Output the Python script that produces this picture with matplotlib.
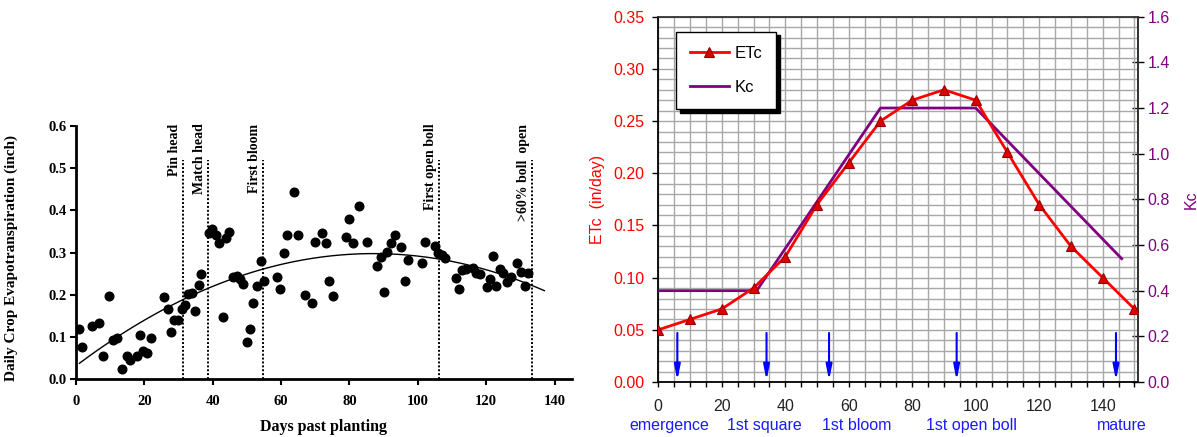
import numpy as np
import matplotlib
matplotlib.use("Agg")
import matplotlib.pyplot as plt
from matplotlib.transforms import blended_transform_factory

# ---------------- Data: left panel (daily crop ET scatter) ----------------
days = [0.8, 1.8, 4.7, 6.8, 7.8, 9.7, 10.9, 11.9, 13.6, 14.8, 15.8, 17.7, 18.7, 19.7,
        20.9, 21.8, 25.7, 26.9, 27.9, 28.7, 29.8, 31.0, 32.0, 32.9, 33.9, 34.9, 35.9,
        36.6, 39.0, 39.8, 40.9, 41.9, 42.9, 43.9, 44.8, 45.8, 47.0, 48.0, 48.9, 49.9,
        50.9, 51.9, 53.0, 54.0, 55.0, 58.7, 59.8, 60.8, 61.8, 63.9, 64.9, 67.1, 69.0,
        70.0, 71.9, 73.1, 74.1, 75.1, 79.0, 79.9, 81.1, 82.8, 85.0, 88.1, 89.1, 90.1,
        91.0, 92.0, 93.2, 95.1, 96.1, 97.1, 101.2, 102.2, 105.1, 106.0, 107.0, 108.0,
        111.1, 112.1, 112.8, 114.0, 116.1, 117.1, 118.1, 120.1, 121.0, 122.0, 123.0,
        124.0, 125.0, 126.0, 127.1, 129.0, 130.2, 131.2, 132.2]
etc_daily = [0.118, 0.076, 0.125, 0.134, 0.055, 0.197, 0.093, 0.098, 0.025, 0.056, 0.046,
             0.054, 0.104, 0.066, 0.063, 0.097, 0.194, 0.167, 0.112, 0.140, 0.140, 0.167,
             0.175, 0.202, 0.203, 0.161, 0.222, 0.248, 0.347, 0.355, 0.342, 0.322, 0.147,
             0.334, 0.349, 0.241, 0.244, 0.237, 0.226, 0.088, 0.120, 0.180, 0.221, 0.281,
             0.233, 0.243, 0.213, 0.298, 0.341, 0.442, 0.341, 0.199, 0.181, 0.325, 0.347,
             0.322, 0.233, 0.197, 0.336, 0.380, 0.323, 0.409, 0.325, 0.268, 0.289, 0.207,
             0.301, 0.323, 0.341, 0.312, 0.232, 0.282, 0.276, 0.325, 0.315, 0.300, 0.293,
             0.287, 0.240, 0.213, 0.259, 0.260, 0.263, 0.251, 0.249, 0.219, 0.238, 0.292,
             0.221, 0.260, 0.251, 0.230, 0.241, 0.274, 0.254, 0.221, 0.252]
trend_range = [1, 137]

stage_names_left = ["Pin head", "Match head", "First bloom", "First open boll", ">60% boll  open"]
stage_days_left = [31.2, 38.6, 54.8, 106.2, 133.3]
stage_line_top = 0.52

# ---------------- Data: right panel (ETc and Kc) ----------------
etc_days = [0, 10, 20, 30, 40, 50, 60, 70, 80, 90, 100, 110, 120, 130, 140, 150]
etc_vals = [0.05, 0.06, 0.07, 0.09, 0.12, 0.17, 0.21, 0.25, 0.27, 0.28, 0.27, 0.22,
            0.17, 0.13, 0.10, 0.07]
kc_days = [0, 31, 70, 100, 146]
kc_vals = [0.40, 0.40, 1.20, 1.20, 0.54]

arrow_days = [6.0, 34.1, 53.8, 94.0, 144.2]
stage_names_right = ["emergence", "1st square", "1st bloom", "1st open boll", "mature"]
stage_label_x = [3.5, 33.5, 62.5, 98.5, 146.0]

# ---------------- Figure ----------------
fig = plt.figure(figsize=(11.97, 4.37), dpi=100)

serif = "Liberation Serif"
sans = "Liberation Sans"

# ---------- Left panel ----------
axL = fig.add_axes([76 / 1197, 1 - 379.3 / 437, (571.7 - 76) / 1197, (379.3 - 125.7) / 437])
axL.plot(days, etc_daily, "o", color="black", ms=6.2, mec="black", zorder=3)

coef = np.polyfit(days, etc_daily, 2)
xx = np.linspace(trend_range[0], trend_range[1], 200)
axL.plot(xx, np.polyval(coef, xx), color="black", lw=1.0, zorder=2)

for name, d in zip(stage_names_left, stage_days_left):
    axL.plot([d, d], [0, stage_line_top], color="black", lw=1.4, ls=(0, (1, 1)), zorder=2)
    axL.text(d - 0.6, 0.605, name, rotation=90, ha="right", va="top",
             family=serif, fontweight="bold", fontsize=10)

axL.set_xlim(0, 145)
axL.set_ylim(0, 0.6)
axL.set_xticks([0, 20, 40, 60, 80, 100, 120, 140])
axL.set_yticks([0.0, 0.1, 0.2, 0.3, 0.4, 0.5, 0.6])
axL.set_yticklabels(["0.0", "0.1", "0.2", "0.3", "0.4", "0.5", "0.6"])
for s in ["top", "right"]:
    axL.spines[s].set_visible(False)
for s in ["left", "bottom"]:
    axL.spines[s].set_linewidth(2)
axL.tick_params(axis="both", direction="out", length=4.5, width=1.5, labelsize=10.5)
axL.tick_params(axis="x", pad=7)
axL.tick_params(axis="y", pad=2.5)
for lab in axL.get_xticklabels() + axL.get_yticklabels():
    lab.set_family(serif)
    lab.set_fontweight("bold")
axL.set_xlabel("Days past planting", family=serif, fontweight="bold", fontsize=11.5, labelpad=8)
axL.set_ylabel("Daily Crop Evapotranspiration (inch)", family=serif, fontweight="bold", fontsize=11)
axL.yaxis.set_label_coords(-0.116, 0.478)

# ---------- Right panel ----------
x0, x1 = 658.3, 658.3 + 151 * 3.174
axR = fig.add_axes([x0 / 1197, 1 - 382 / 437, (x1 - x0) / 1197, (382 - 16.7) / 437])
axR.set_xlim(0, 151)
axR.set_ylim(0, 0.35)
axR.set_xticks(np.arange(0, 141, 20))
axR.set_xticks(np.arange(0, 151, 5), minor=True)
axR.set_yticks(np.arange(0, 0.351, 0.05))
axR.set_yticks(np.arange(0, 0.351, 0.01), minor=True)
axR.set_yticklabels(["%.2f" % v for v in np.arange(0, 0.351, 0.05)])
axR.grid(which="both", color="#a8a8a8", lw=1.0)
axR.set_axisbelow(True)
axR.tick_params(axis="x", which="both", direction="out", length=3.5, width=1, pad=9,
                labelsize=11.5, labelcolor="#222222")
axR.tick_params(axis="y", which="major", direction="out", length=4, width=1, pad=6,
                labelsize=11.5, labelcolor="red")
axR.tick_params(axis="y", which="minor", length=0)
for lab in axR.get_xticklabels() + axR.get_yticklabels():
    lab.set_family(sans)
for s in axR.spines.values():
    s.set_linewidth(1.3)
    s.set_color("#333333")
axR.spines["left"].set_color("black")
axR.spines["bottom"].set_color("black")
axR.set_ylabel("ETc  (in/day)", color="red", family=sans, fontsize=11.5, labelpad=6)

axK = axR.twinx()
axK.set_ylim(0, 1.6)
axK.set_yticks(np.arange(0, 1.61, 0.2))
axK.set_yticklabels(["%.1f" % v for v in np.arange(0, 1.61, 0.2)])
axK.tick_params(axis="y", direction="inout", length=8, width=1, pad=3,
                labelsize=11.5, labelcolor="#800080")
for lab in axK.get_yticklabels():
    lab.set_family(sans)
for s in axK.spines.values():
    s.set_visible(False)
axK.spines["right"].set_visible(True)
axK.spines["right"].set_linewidth(1.3)
axK.spines["right"].set_color("#333333")
axK.set_ylabel("Kc", color="#800080", family=sans, fontsize=11.5, labelpad=10)

# Kc drawn on the primary axes (above its grid) using the Kc axis scale
hK, = axR.plot(kc_days, kc_vals, color="#800080", lw=2.0, zorder=3,
               transform=axK.transData, label="Kc")
hE, = axR.plot(etc_days, etc_vals, color="red", lw=2.0, marker="^", ms=7,
               mfc="#dd0000", mec="#990000", mew=0.8, zorder=4, label="ETc")
axR.set_zorder(axK.get_zorder() + 1)
axR.patch.set_visible(False)

for d in arrow_days:
    axR.annotate("", xy=(d, 0.0015), xytext=(d, 0.047),
                 arrowprops=dict(arrowstyle="-|>,head_width=0.18,head_length=0.9",
                                 color="blue", lw=1.5, shrinkA=0, shrinkB=0))

tr = blended_transform_factory(axR.transData, axR.transAxes)
for name, xp in zip(stage_names_right, stage_label_x):
    axR.text(xp, -0.118, name, transform=tr, ha="center", va="center",
             color="#1a1aff", family=sans, fontsize=11.5, clip_on=False)

leg = axR.legend([hE, hK], ["ETc", "Kc"], loc="upper left",
                 bbox_to_anchor=(0.037, 0.959), frameon=True, fancybox=False,
                 edgecolor="black", framealpha=1, labelspacing=1.15, handlelength=2.3,
                 handletextpad=0.35, borderpad=0.85, borderaxespad=0,
                 prop={"family": sans, "size": 12},
                 shadow={"color": "black", "alpha": 1, "ox": 2.5, "oy": -2.5})
leg.get_frame().set_linewidth(1.0)
leg.set_zorder(10)

fig.savefig("out.png", dpi=100)
